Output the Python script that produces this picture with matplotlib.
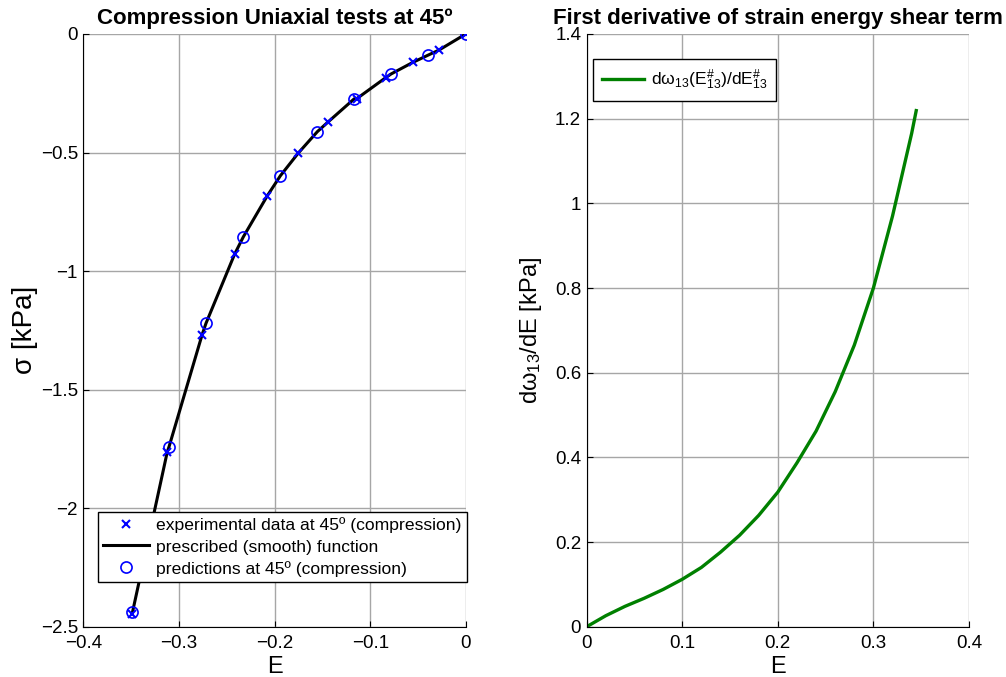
import matplotlib
matplotlib.use("Agg")
import matplotlib.pyplot as plt

plt.rcParams['font.family'] = ['Liberation Sans', 'DejaVu Sans']
plt.rcParams['mathtext.fontset'] = 'custom'
plt.rcParams['mathtext.rm'] = 'Liberation Sans'
plt.rcParams['mathtext.it'] = 'Liberation Sans:italic'

# Essais de compression à 45º
E_exp = [0, -0.0279, -0.0555, -0.0837, -0.1138, -0.1438, -0.1752, -0.2076,
         -0.2418, -0.2757, -0.3123, -0.3489]
sig_exp = [0, -0.0675, -0.120, -0.184, -0.274, -0.370, -0.502, -0.682,
           -0.928, -1.270, -1.762, -2.446]

E_pred = [0, -0.0391, -0.0782, -0.1166, -0.1553, -0.194, -0.2328, -0.2718,
          -0.3105, -0.3489]
sig_pred = [0, -0.0886, -0.1687, -0.273, -0.412, -0.598, -0.856, -1.220,
            -1.741, -2.439]

# fonction lissée prescrite (passe par les prédictions)
E_fit = [0, -0.0279, -0.0391, -0.0555, -0.0782, -0.0837, -0.1138, -0.1166,
         -0.1438, -0.1553, -0.1752, -0.194, -0.2076, -0.2328, -0.2418,
         -0.2718, -0.2757, -0.3105, -0.3123, -0.3489]
sig_fit = [0, -0.0675, -0.0886, -0.120, -0.1687, -0.184, -0.272, -0.273,
           -0.370, -0.412, -0.502, -0.598, -0.682, -0.856, -0.928,
           -1.220, -1.266, -1.741, -1.762, -2.442]

# dérivée première du terme de cisaillement
E_der = [0, 0.02, 0.04, 0.06, 0.08, 0.10, 0.12, 0.14, 0.16, 0.18, 0.20, 0.22,
         0.24, 0.26, 0.28, 0.30, 0.32, 0.34, 0.3448]
dw_der = [0, 0.026, 0.048, 0.067, 0.088, 0.112, 0.140, 0.176, 0.216, 0.263,
          0.318, 0.387, 0.462, 0.555, 0.665, 0.800, 0.970, 1.165, 1.219]

fig = plt.figure(figsize=(10.06, 6.77), dpi=100)
ax1 = fig.add_axes([0.083, 0.0743, 0.380, 0.8755])
ax2 = fig.add_axes([0.5832, 0.0743, 0.380, 0.8755])

for ax in (ax1, ax2):
    ax.grid(True, color='#a6a6a6', linewidth=1.0)
    ax.set_axisbelow(True)
    ax.spines['top'].set_visible(False)
    ax.spines['right'].set_visible(False)
    ax.tick_params(direction='in', length=4, labelsize=13.5)
    ax.tick_params(axis='x', pad=6)
    ax.tick_params(axis='y', pad=4)

# Graphe de gauche
ax1.plot(E_exp, sig_exp, 'x', color='blue', ms=6, mew=1.5, zorder=4,
         label='experimental data at 45º (compression)')
ax1.plot(E_fit, sig_fit, '-', color='black', lw=2.2, zorder=3,
         label='prescribed (smooth) function')
ax1.plot(E_pred, sig_pred, 'o', color='blue', mfc='none', ms=8, mew=1.2,
         zorder=5, label='predictions at 45º (compression)')
ax1.set_xlim(-0.4, 0)
ax1.set_ylim(-2.5, 0)
ax1.set_xticks([-0.4, -0.3, -0.2, -0.1, 0])
ax1.set_xticklabels(['\u22120.4', '\u22120.3', '\u22120.2', '\u22120.1', '0'])
ax1.set_yticks([-2.5, -2, -1.5, -1, -0.5, 0])
ax1.set_yticklabels(['\u22122.5', '\u22122', '\u22121.5', '\u22121', '\u22120.5', '0'])
ax1.set_xlabel('E', fontsize=17, labelpad=3)
ax1.set_ylabel('σ [kPa]', fontsize=20, labelpad=2)
ax1.set_title('Compression Uniaxial tests at 45º', fontsize=16,
              fontweight='bold', pad=7)
leg1 = ax1.legend(loc='upper left', bbox_to_anchor=(98 / 1006, 1 - 512 / 677),
                  bbox_transform=fig.transFigure, fontsize=12.6, fancybox=False,
                  edgecolor='black', framealpha=1, borderpad=0.3,
                  labelspacing=0.35, handlelength=2.6, handletextpad=0.4,
                  borderaxespad=0)
leg1.get_frame().set_linewidth(1.0)

# Graphe de droite
ax2.plot(E_der, dw_der, '-', color='#008000', lw=2.4,
         label=r'd$\mathregular{\omega_{13}}$(E$\mathregular{^{\#}_{13}}$)/dE$\mathregular{^{\#}_{13}}$')
ax2.set_xlim(0, 0.4)
ax2.set_ylim(0, 1.4)
ax2.set_xticks([0, 0.1, 0.2, 0.3, 0.4])
ax2.set_xticklabels(['0', '0.1', '0.2', '0.3', '0.4'])
ax2.set_yticks([0, 0.2, 0.4, 0.6, 0.8, 1, 1.2, 1.4])
ax2.set_yticklabels(['0', '0.2', '0.4', '0.6', '0.8', '1', '1.2', '1.4'])
ax2.set_xlabel('E', fontsize=17, labelpad=3)
ax2.set_ylabel(r'd$\mathregular{\omega_{13}}$/dE [kPa]', fontsize=17, labelpad=8)
ax2.set_title('First derivative of strain energy shear term', fontsize=16,
              fontweight='bold', pad=7)
leg2 = ax2.legend(loc='upper left', bbox_to_anchor=(593 / 1006, 1 - 59 / 677),
                  bbox_transform=fig.transFigure, fontsize=12.6, fancybox=False,
                  edgecolor='black', framealpha=1, borderpad=0.5,
                  handlelength=2.4, handletextpad=0.4, borderaxespad=0)
leg2.get_frame().set_linewidth(1.0)

fig.savefig('out.png', dpi=100)
